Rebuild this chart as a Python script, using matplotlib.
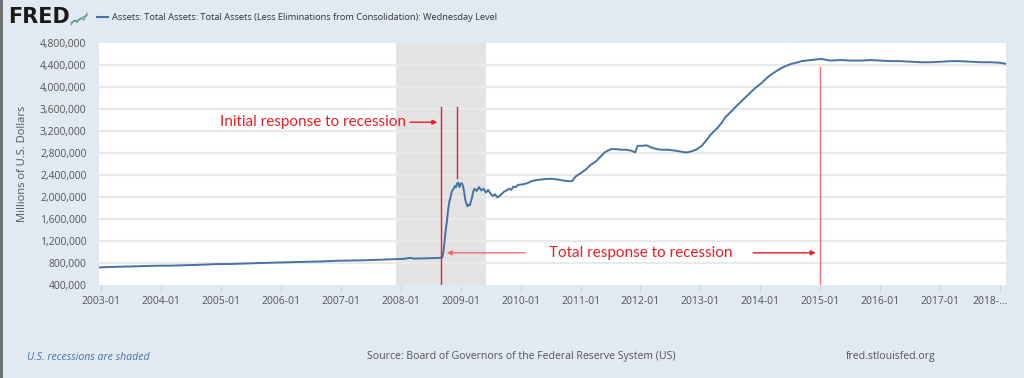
import matplotlib
matplotlib.use("Agg")
import matplotlib.pyplot as plt
import matplotlib.dates as mdates
import matplotlib.ticker as mticker
import matplotlib.transforms as mtrans
import pandas as pd

# Weekly level (millions of U.S. dollars)
dates = [
    "2002-12-18", "2003-03-01", "2003-06-01", "2003-09-01", "2003-12-01",
    "2004-03-01", "2004-06-01", "2004-09-01", "2004-12-01",
    "2005-03-01", "2005-06-01", "2005-09-01", "2005-12-01",
    "2006-03-01", "2006-06-01", "2006-09-01", "2006-12-01",
    "2007-03-01", "2007-06-01", "2007-09-01", "2007-12-01",
    "2008-01-15", "2008-03-01", "2008-03-20", "2008-06-01", "2008-08-27",
    "2008-09-10", "2008-09-17", "2008-09-24", "2008-10-01", "2008-10-08",
    "2008-10-15", "2008-10-22", "2008-10-29", "2008-11-05", "2008-11-12",
    "2008-11-19", "2008-11-26", "2008-12-03", "2008-12-10", "2008-12-17",
    "2008-12-24", "2008-12-31", "2009-01-07", "2009-01-14", "2009-01-21",
    "2009-01-28", "2009-02-04", "2009-02-11", "2009-02-18", "2009-02-25",
    "2009-03-04", "2009-03-11", "2009-03-18", "2009-03-25", "2009-04-08",
    "2009-04-22", "2009-05-06", "2009-05-20", "2009-06-03", "2009-06-17",
    "2009-07-01", "2009-07-15", "2009-07-29", "2009-08-12", "2009-08-26",
    "2009-09-09", "2009-09-23", "2009-10-07", "2009-10-21", "2009-11-04",
    "2009-11-18", "2009-12-02", "2009-12-16",
    "2010-01-13", "2010-02-10", "2010-03-10", "2010-04-14", "2010-05-12",
    "2010-06-16", "2010-07-14", "2010-08-11", "2010-09-15", "2010-10-13",
    "2010-11-10", "2010-12-01",
    "2011-01-05", "2011-02-02", "2011-03-02", "2011-04-06", "2011-05-04",
    "2011-06-01", "2011-07-06", "2011-08-03", "2011-09-07", "2011-10-05",
    "2011-11-09", "2011-11-30", "2011-12-14",
    "2012-01-11", "2012-02-08", "2012-03-07", "2012-04-11", "2012-05-09",
    "2012-06-13", "2012-07-11", "2012-08-08", "2012-09-12", "2012-10-10",
    "2012-11-07", "2012-12-05",
    "2013-01-09", "2013-02-06", "2013-03-06", "2013-04-10", "2013-05-08",
    "2013-06-05", "2013-07-10", "2013-08-07", "2013-09-04", "2013-10-09",
    "2013-11-06", "2013-12-04",
    "2014-01-08", "2014-02-05", "2014-03-05", "2014-04-09", "2014-05-07",
    "2014-06-04", "2014-07-09", "2014-08-06", "2014-09-10", "2014-10-08",
    "2014-11-05", "2014-12-10",
    "2015-01-07", "2015-03-04", "2015-05-06", "2015-07-08", "2015-09-09",
    "2015-11-04", "2016-01-06", "2016-03-09", "2016-05-04", "2016-07-06",
    "2016-09-07", "2016-11-09", "2017-01-04", "2017-03-08", "2017-05-03",
    "2017-07-05", "2017-09-06", "2017-11-08", "2018-01-03", "2018-02-07",
]
assets = [
    720000, 728000, 735000, 742000, 750000,
    752000, 760000, 768000, 780000,
    782000, 790000, 800000, 808000,
    815000, 822000, 828000, 840000,
    845000, 850000, 860000, 870000,
    875000, 893000, 880000, 885000, 893000,
    905000, 1000000, 1200000, 1400000, 1550000,
    1750000, 1900000, 1980000, 2080000, 2130000,
    2150000, 2200000, 2180000, 2250000, 2260000,
    2180000, 2240000, 2250000, 2200000, 2100000,
    1950000, 1880000, 1830000, 1860000, 1850000,
    1920000, 2000000, 2100000, 2150000, 2110000,
    2180000, 2120000, 2150000, 2080000, 2130000,
    2060000, 2020000, 2050000, 1990000, 2020000,
    2060000, 2100000, 2120000, 2150000, 2130000,
    2190000, 2180000, 2220000,
    2230000, 2250000, 2290000, 2310000, 2320000,
    2330000, 2330000, 2320000, 2300000, 2290000,
    2285000, 2370000,
    2440000, 2500000, 2580000, 2650000, 2740000,
    2820000, 2870000, 2870000, 2860000, 2860000,
    2840000, 2810000, 2930000,
    2930000, 2940000, 2900000, 2870000, 2860000,
    2860000, 2850000, 2840000, 2820000, 2810000,
    2830000, 2860000,
    2930000, 3030000, 3140000, 3240000, 3340000,
    3460000, 3560000, 3650000, 3730000, 3830000,
    3910000, 3990000,
    4070000, 4150000, 4220000, 4290000, 4340000,
    4380000, 4420000, 4440000, 4470000, 4480000,
    4490000, 4500000,
    4510000, 4480000, 4490000, 4480000, 4480000,
    4490000, 4480000, 4470000, 4470000, 4460000,
    4450000, 4450000, 4460000, 4470000, 4470000,
    4460000, 4450000, 4450000, 4440000, 4420000,
]

recession = ("2007-12-01", "2009-06-01")
# (date, bottom, top) of the red marker lines
initial_lines = [("2008-09-03", 400000, 3630000), ("2008-12-06", 2340000, 3630000)]
total_line = ("2015-01-01", 400000, 4370000)
yticks = list(range(400000, 4800001, 400000))
xtick_years = list(range(2003, 2019))

BG = "#e1e9f2"
RED = "#ee1c25"
PINK = "#f26d72"
BLUE = "#4572a7"
GREY = "#555555"
NARROW = ["Liberation Sans Narrow", "Open Sans"]

x = pd.to_datetime(dates)
d = lambda s: mdates.date2num(pd.Timestamp(s))

fig = plt.figure(figsize=(10.24, 3.78), dpi=100, facecolor=BG)
ax = fig.add_axes([99 / 1024, 1 - 285 / 378, 907 / 1024, 242 / 378])
ax.set_facecolor("white")

# recession shading and grid
ax.axvspan(d(recession[0]), d(recession[1]), color="#e3e3e3", zorder=0, lw=0)
for yt in yticks[1:-1]:
    ax.axhline(yt, color="#e9e9e9", lw=1.6, zorder=0.5)

ax.plot(x, assets, color=BLUE, lw=1.4, zorder=3)

ax.set_xlim(d("2002-12-18"), d("2018-02-07"))
ax.set_ylim(400000, 4800000)
ax.set_yticks(yticks)
ax.yaxis.set_major_formatter(mticker.FuncFormatter(lambda v, p: f"{int(v):,}"))
ax.set_xticks([d(f"{y}-01-01") for y in xtick_years])
ax.set_xticklabels([f"{y}-01" for y in xtick_years[:-1]] + ["2018-..."])
for s in ax.spines.values():
    s.set_visible(False)
ax.tick_params(axis="y", length=0, pad=9, labelsize=7.5, labelcolor=GREY)
ax.tick_params(axis="x", length=5, color="#ccd6eb", pad=3, labelsize=7.5, labelcolor=GREY)
last = ax.get_xticklabels()[-1]
last.set_transform(last.get_transform() + mtrans.ScaledTranslation(-10 / 100, 0, fig.dpi_scale_trans))
for lab in ax.get_xticklabels() + ax.get_yticklabels():
    lab.set_family(NARROW)
ax.set_ylabel("Millions of U.S. Dollars", fontsize=8, color=GREY, family=NARROW)
ax.yaxis.set_label_coords(-71 / 907, 0.5)

# red annotations
for dt, lo, hi in initial_lines:
    ax.plot([d(dt), d(dt)], [lo, hi], color=RED, lw=1, zorder=4)
ax.plot([d(total_line[0])] * 2, [total_line[1], total_line[2]], color=PINK, lw=1, zorder=4)

ax.text(d("2008-02-01"), 3360000, "Initial response to recession", color=RED,
        fontsize=11, ha="right", va="center", family="Lato")
ax.annotate("", xy=(d("2008-08-28"), 3360000), xytext=(d("2008-02-10"), 3360000),
            arrowprops=dict(arrowstyle="-|>", color=RED, lw=1, mutation_scale=7))
ax.text(d("2012-01-01"), 985000, "Total response to recession", color=RED,
        fontsize=11, ha="center", va="center", family="Lato")
ax.annotate("", xy=(d("2008-09-20"), 985000), xytext=(d("2010-02-15"), 985000),
            arrowprops=dict(arrowstyle="-|>", color=PINK, lw=1, mutation_scale=7))
ax.annotate("", xy=(d("2014-12-22"), 985000), xytext=(d("2013-11-01"), 985000),
            arrowprops=dict(arrowstyle="-|>", color=RED, lw=1, mutation_scale=7))

# header: logo and legend
fig.text(8 / 1024, 1 - 17 / 378, "FRED", fontsize=15, fontweight="bold", color="#1a1a1a",
         va="center", ha="left", family="DejaVu Sans")
icon = fig.add_axes([70 / 1024, 1 - 26 / 378, 18 / 1024, 14 / 378])
icon.plot([0, 1, 2, 3, 4, 5], [0, 2, 1, 3, 2, 5], color="#6aa84f", lw=0.8)
icon.plot([0, 1, 2, 3, 4, 5], [1, 1.5, 2, 2.5, 3.5, 4], color="#4a90c8", lw=0.8)
icon.set_xlim(-0.3, 5.3)
icon.set_ylim(-0.5, 5.5)
icon.axis("off")
fig.lines.append(plt.Line2D([97 / 1024, 108 / 1024], [1 - 17 / 378] * 2, color=BLUE, lw=1.5,
                            transform=fig.transFigure))
fig.text(112 / 1024, 1 - 17 / 378,
         "Assets: Total Assets: Total Assets (Less Eliminations from Consolidation): Wednesday Level",
         fontsize=6.7, color="#333333", va="center", ha="left", family=NARROW)

# footer
fig.text(27 / 1024, 1 - 357 / 378, "U.S. recessions are shaded", fontsize=7.6, style="italic",
         color="#4a6fa5", va="center", family=NARROW)
fig.text(367 / 1024, 1 - 357 / 378, "Source: Board of Governors of the Federal Reserve System (US)",
         fontsize=7.6, color=GREY, va="center", family=NARROW)
fig.text(846 / 1024, 1 - 357 / 378, "fred.stlouisfed.org", fontsize=7.6, color=GREY,
         va="center", family=NARROW)

# left frame edge
fig.lines.append(plt.Line2D([1 / 1024, 1 / 1024], [0, 1], color="#666666", lw=2,
                            transform=fig.transFigure))

fig.savefig("out.png", dpi=100, facecolor=BG)
